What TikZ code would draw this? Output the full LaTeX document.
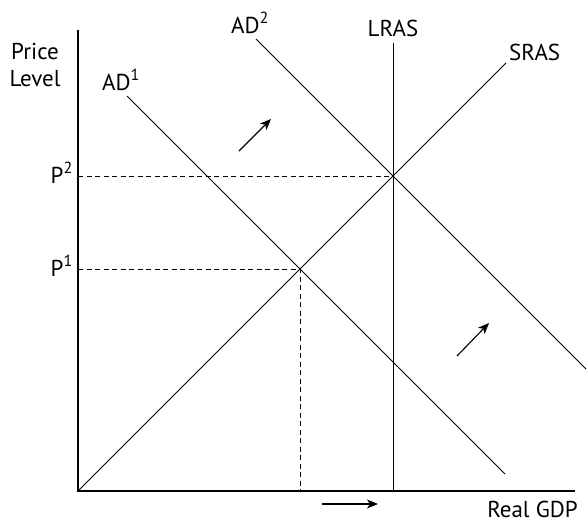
\documentclass[tikz,border=0pt]{standalone}
\usepackage{fontspec}
\setmainfont{PT Sans}
\usepackage{tikz}
\usetikzlibrary{arrows.meta}
\tikzset{
  axis/.style={
    line width=1.3pt,
    draw=black
  },
  curve/.style={
    line width=1pt,
    draw=black
  },
  guide/.style={
    line width=1pt,
    draw=black,
    dash pattern=on 5pt off 3.5pt
  },
  shiftArrow/.style={
    -{Stealth[length=11pt,width=9pt,inset=3pt]},
    line width=1.1pt,
    draw=black
  },
  tag/.style={
    inner sep=0pt,
    font=\fontsize{23}{27}\selectfont
  }
}

\begin{document}
\begin{tikzpicture}[x=1pt,y=-1pt]
  \useasboundingbox (0,0) rectangle (587,525);
  % axes
  \coordinate (origin) at (78,491);
  \coordinate (ytop) at (78,30);
  \coordinate (xend) at (575,491);
  \draw[axis] (ytop) -- (origin) -- (xend);
  \node[tag,align=center] (pricelabel) at (35,65) {Price\\Level};
  \node[tag,anchor=base east] (gdplabel) at (578,517) {Real GDP};
  % curves
  \node[tag,anchor=base] (lraslabel) at (393,36) {LRAS};
  \node[tag,anchor=base west] (sraslabel) at (509,60) {SRAS};
  \node[tag,anchor=base west] (adonelabel) at (102,90) {AD\textsuperscript{1}};
  \node[tag,anchor=base west] (adtwolabel) at (231,33) {AD\textsuperscript{2}};
  \coordinate (lrastop) at (393.5,43);
  \coordinate (lrasfoot) at (393.5,491);
  \coordinate (srastop) at (506,63);
  \coordinate (adonetop) at (127,96);
  \coordinate (adoneend) at (505,474);
  \coordinate (adtwotop) at (256,39);
  \coordinate (adtwoend) at (586,369);
  \draw[curve] (lrastop) -- (lrasfoot);
  \draw[curve] (origin) -- (srastop);
  \draw[curve] (adonetop) -- (adoneend);
  \draw[curve] (adtwotop) -- (adtwoend);
  % equilibria and guides
  \coordinate (eqone) at (300,269);
  \coordinate (eqtwo) at (393,176);
  \coordinate (pone) at (78,269);
  \coordinate (ptwo) at (78,176);
  \coordinate (qone) at (300,491);
  \node[tag,anchor=base east] (ponelabel) at (73,276) {P\textsuperscript{1}};
  \node[tag,anchor=base east] (ptwolabel) at (73,183) {P\textsuperscript{2}};
  \draw[guide] (pone) -- (eqone) -- (qone);
  \draw[guide] (ptwo) -- (eqtwo);
  % shift arrows
  \coordinate (shiftAtail) at (239,151);
  \coordinate (shiftAhead) at (271,119);
  \coordinate (shiftBtail) at (457,356);
  \coordinate (shiftBhead) at (489,323);
  \coordinate (shiftCtail) at (322,504);
  \coordinate (shiftChead) at (378,504);
  \draw[shiftArrow] (shiftAtail) -- (shiftAhead);
  \draw[shiftArrow] (shiftBtail) -- (shiftBhead);
  \draw[shiftArrow] (shiftCtail) -- (shiftChead);
\end{tikzpicture}
\end{document}
